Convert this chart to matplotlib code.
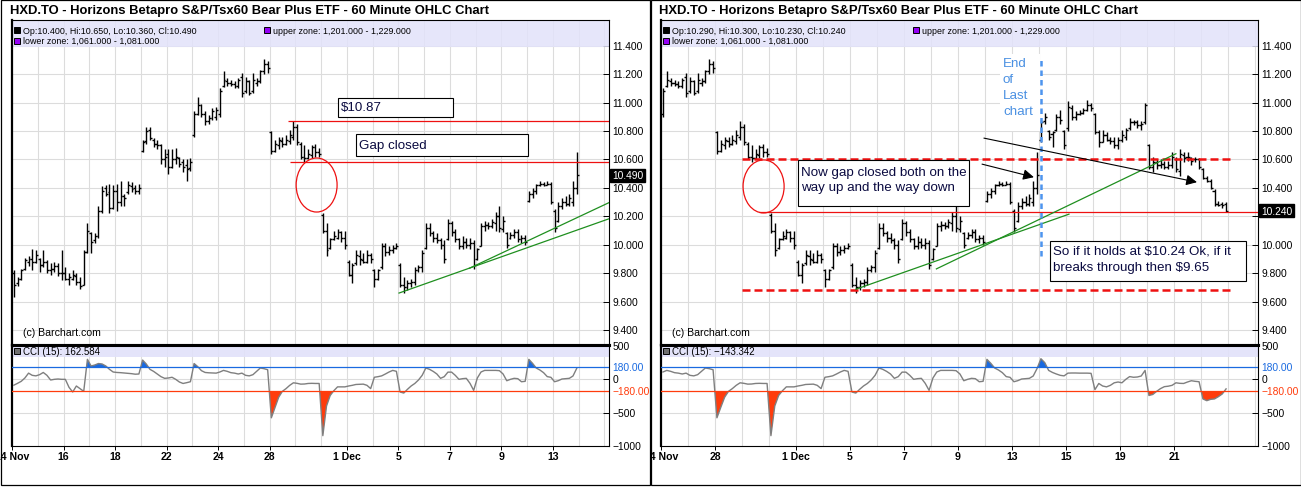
import numpy as np
import matplotlib
matplotlib.use("Agg")
import matplotlib.pyplot as plt
from matplotlib.patches import Ellipse, Rectangle
from matplotlib.transforms import Bbox, TransformedBbox, blended_transform_factory

plt.rcParams["font.family"] = ["Liberation Sans", "DejaVu Sans"]

# HXD.TO hourly bars, 14 Nov .. 22 Dec, 7 bars per trading day
HIGH = [
    9.82, 9.77, 9.83, 9.91, 9.92, 9.97, 9.96,          # 14 Nov
    9.91, 9.96, 9.89, 9.87, 9.88, 9.87, 9.96,          # 15
    9.84, 9.80, 9.82, 9.80, 9.77, 9.96, 10.15,         # 16
    10.09, 10.08, 10.27, 10.41, 10.42, 10.43, 10.42,   # 17
    10.43, 10.45, 10.36, 10.45, 10.44, 10.42, 10.43,   # 18
    10.74, 10.83, 10.83, 10.75, 10.74, 10.71, 10.67,   # 21
    10.67, 10.67, 10.68, 10.62, 10.60, 10.60, 10.61,   # 22
    10.94, 11.04, 10.99, 10.94, 10.91, 10.96, 10.97,   # 23
    11.10, 11.22, 11.17, 11.16, 11.15, 11.17, 11.21,   # 24
    11.18, 11.16, 11.21, 11.17, 11.23, 11.31, 11.29,   # 25
    10.80, 10.74, 10.76, 10.76, 10.77, 10.81, 10.87,   # 28
    10.85, 10.72, 10.70, 10.67, 10.70, 10.71, 10.68,   # 29
    10.22, 10.15, 10.05, 10.10, 10.11, 10.10, 10.10,   # 30
    9.89, 9.87, 9.96, 9.96, 9.94, 9.96, 9.94,          # 1 Dec
    9.83, 9.83, 10.01, 10.01, 9.99, 10.00, 10.01,      # 2
    9.87, 9.77, 9.75, 9.76, 9.84, 9.86, 9.96,          # 5
    10.15, 10.15, 10.10, 10.08, 10.05, 10.03, 10.18,   # 6
    10.17, 10.11, 10.05, 10.06, 10.05, 10.05, 10.03,   # 7
    9.98, 10.15, 10.17, 10.16, 10.18, 10.23, 10.27,    # 8
    10.20, 10.09, 10.09, 10.11, 10.11, 10.07, 10.07,   # 9
    10.38, 10.40, 10.43, 10.45, 10.44, 10.45, 10.44,   # 12
    10.25, 10.30, 10.33, 10.34, 10.36, 10.45, 10.65,   # 13
    10.88, 10.93, 10.81, 10.80, 10.92, 10.95, 10.81,   # 14
    11.01, 10.98, 10.94, 10.95, 10.96, 11.02, 11.00,   # 15
    10.93, 10.81, 10.81, 10.79, 10.76, 10.76, 10.76,   # 16
    10.81, 10.82, 10.89, 10.88, 10.88, 10.87, 11.00,   # 19
    10.71, 10.62, 10.60, 10.60, 10.59, 10.59, 10.65,   # 20
    10.62, 10.67, 10.65, 10.65, 10.62, 10.62, 10.61,   # 21
    10.54, 10.48, 10.46, 10.39, 10.31, 10.30, 10.30,   # 22
]
LOW = [
    9.63, 9.71, 9.75, 9.82, 9.85, 9.82, 9.87,
    9.81, 9.84, 9.80, 9.79, 9.81, 9.78, 9.75,
    9.75, 9.72, 9.75, 9.72, 9.69, 9.72, 9.94,
    9.94, 10.01, 10.05, 10.22, 10.34, 10.22, 10.25,
    10.24, 10.27, 10.27, 10.36, 10.37, 10.36, 10.36,
    10.65, 10.71, 10.74, 10.69, 10.67, 10.57, 10.55,
    10.50, 10.54, 10.57, 10.55, 10.51, 10.45, 10.52,
    10.76, 10.91, 10.90, 10.84, 10.85, 10.88, 10.88,
    10.90, 11.11, 11.12, 11.12, 11.10, 11.10, 11.04,
    11.07, 11.05, 11.07, 11.12, 11.14, 11.20, 11.21,
    10.64, 10.65, 10.67, 10.69, 10.70, 10.71, 10.74,
    10.70, 10.60, 10.58, 10.60, 10.61, 10.62, 10.62,
    10.08, 9.92, 9.97, 10.03, 10.04, 10.02, 9.97,
    9.78, 9.73, 9.86, 9.86, 9.87, 9.87, 9.87,
    9.70, 9.75, 9.83, 9.92, 9.93, 9.94, 9.97,
    9.70, 9.66, 9.68, 9.70, 9.72, 9.81, 9.81,
    9.97, 10.06, 10.02, 10.01, 9.97, 9.87, 10.03,
    10.06, 10.02, 9.97, 9.97, 9.98, 9.97, 9.83,
    9.89, 9.99, 10.10, 10.11, 10.12, 10.10, 10.09,
    10.09, 9.98, 10.04, 10.05, 10.02, 10.01, 10.00,
    10.30, 10.33, 10.36, 10.41, 10.41, 10.42, 10.29,
    10.09, 10.16, 10.25, 10.27, 10.27, 10.27, 10.36,
    10.72, 10.85, 10.74, 10.69, 10.80, 10.85, 10.67,
    10.80, 10.88, 10.88, 10.91, 10.92, 10.94, 10.94,
    10.78, 10.69, 10.72, 10.73, 10.71, 10.68, 10.67,
    10.72, 10.74, 10.81, 10.84, 10.82, 10.81, 10.85,
    10.53, 10.51, 10.53, 10.54, 10.53, 10.53, 10.54,
    10.51, 10.48, 10.58, 10.59, 10.56, 10.58, 10.53,
    10.46, 10.44, 10.39, 10.27, 10.27, 10.26, 10.23,
]
OPEN = [
    9.80, 9.73, 9.76, 9.83, 9.88, 9.90, 9.88,
    9.90, 9.86, 9.88, 9.82, 9.83, 9.85, 9.80,
    9.80, 9.76, 9.76, 9.78, 9.74, 9.72, 9.95,
    10.08, 10.03, 10.06, 10.24, 10.40, 10.37, 10.26,
    10.38, 10.30, 10.34, 10.37, 10.41, 10.40, 10.38,
    10.66, 10.73, 10.81, 10.74, 10.71, 10.70, 10.60,
    10.64, 10.55, 10.60, 10.61, 10.58, 10.56, 10.54,
    10.77, 10.92, 10.98, 10.92, 10.87, 10.89, 10.90,
    10.92, 11.12, 11.15, 11.14, 11.13, 11.12, 11.18,
    11.08, 11.15, 11.08, 11.14, 11.15, 11.22, 11.27,
    10.79, 10.66, 10.70, 10.73, 10.71, 10.73, 10.76,
    10.83, 10.71, 10.62, 10.61, 10.63, 10.69, 10.65,
    10.21, 10.10, 9.98, 10.04, 10.05, 10.09, 10.05,
    9.88, 9.79, 9.87, 9.92, 9.89, 9.88, 9.93,
    9.82, 9.76, 9.84, 9.99, 9.95, 9.96, 9.98,
    9.86, 9.72, 9.70, 9.73, 9.74, 9.82, 9.84,
    9.98, 10.12, 10.08, 10.05, 10.03, 10.00, 10.04,
    10.15, 10.09, 10.04, 9.99, 10.02, 10.00, 10.01,
    9.90, 9.99, 10.13, 10.14, 10.13, 10.15, 10.20,
    10.11, 10.08, 10.05, 10.07, 10.09, 10.04, 10.05,
    10.31, 10.36, 10.38, 10.42, 10.43, 10.42, 10.43,
    10.24, 10.17, 10.27, 10.30, 10.29, 10.30, 10.40,
    10.74, 10.87, 10.80, 10.78, 10.81, 10.90, 10.80,
    10.82, 10.96, 10.90, 10.92, 10.93, 10.95, 10.98,
    10.92, 10.79, 10.72, 10.77, 10.74, 10.73, 10.70,
    10.74, 10.76, 10.82, 10.86, 10.86, 10.84, 10.86,
    10.70, 10.55, 10.58, 10.56, 10.57, 10.55, 10.56,
    10.60, 10.52, 10.63, 10.62, 10.61, 10.60, 10.60,
    10.53, 10.47, 10.45, 10.38, 10.29, 10.29, 10.29,
]
CLOSE = [
    9.72, 9.76, 9.82, 9.89, 9.90, 9.88, 9.93,
    9.86, 9.88, 9.82, 9.83, 9.85, 9.80, 9.80,
    9.76, 9.77, 9.79, 9.74, 9.71, 9.95, 10.10,
    10.02, 10.06, 10.24, 10.38, 10.36, 10.26, 10.38,
    10.30, 10.34, 10.33, 10.42, 10.39, 10.38, 10.40,
    10.72, 10.80, 10.75, 10.71, 10.70, 10.60, 10.62,
    10.55, 10.60, 10.62, 10.57, 10.55, 10.53, 10.58,
    10.92, 10.98, 10.92, 10.87, 10.89, 10.94, 10.95,
    11.08, 11.16, 11.14, 11.13, 11.12, 11.16, 11.07,
    11.15, 11.07, 11.16, 11.15, 11.22, 11.27, 11.24,
    10.66, 10.71, 10.74, 10.71, 10.74, 10.77, 10.83,
    10.72, 10.62, 10.61, 10.64, 10.69, 10.65, 10.64,
    10.10, 9.96, 10.04, 10.06, 10.09, 10.05, 10.00,
    9.79, 9.86, 9.93, 9.90, 9.88, 9.93, 9.90,
    9.76, 9.82, 9.99, 9.95, 9.96, 9.98, 9.99,
    9.72, 9.70, 9.73, 9.74, 9.82, 9.84, 9.94,
    10.12, 10.08, 10.05, 10.03, 10.00, 9.90, 10.15,
    10.09, 10.04, 9.99, 10.02, 10.00, 10.01, 9.86,
    9.97, 10.13, 10.14, 10.13, 10.16, 10.20, 10.12,
    10.17, 10.00, 10.07, 10.09, 10.04, 10.05, 10.02,
    10.36, 10.38, 10.42, 10.43, 10.42, 10.43, 10.30,
    10.12, 10.27, 10.30, 10.29, 10.33, 10.40, 10.49,
    10.86, 10.90, 10.76, 10.79, 10.90, 10.88, 10.70,
    10.97, 10.90, 10.92, 10.93, 10.95, 10.98, 10.96,
    10.79, 10.72, 10.77, 10.74, 10.73, 10.70, 10.74,
    10.77, 10.81, 10.86, 10.86, 10.84, 10.85, 10.98,
    10.55, 10.58, 10.56, 10.57, 10.55, 10.56, 10.62,
    10.53, 10.64, 10.61, 10.62, 10.59, 10.60, 10.55,
    10.47, 10.45, 10.40, 10.29, 10.28, 10.28, 10.24,
]
CCI = [
    -88, -60, -30, 20, 93, 60, 52,
    70, 103, 60, -10, 0, 5, 0,
    0, -120, -190, -100, -140, -180, 300,
    200, 215, 237, 230, 200, 150, 110,
    103, 100, 95, 90, 85, 77, 80,
    289, 230, 150, 119, 80, 40, 15,
    20, 31, 0, -40, -62, -50, -36,
    237, 190, 130, 103, 98, 95, 93,
    110, 134, 120, 100, 93, 80, 93,
    60, 52, 70, 120, 170, 160, 144,
    -577, -420, -268, -180, -139, -90, -52,
    -60, -72, -70, -62, -60, -62, -62,
    -845, -400, -242, -170, -113, -113, -113,
    -100, -90, -77, -75, -72, -90, -139,
    31, 40, 52, 80, 110, 134, 120,
    -190, -206, -150, -100, -62, -10, 60,
    170, 150, 119, 80, 15, 40, 108,
    108, 60, 0, 10, 15, -60, -165,
    20, 110, 134, 134, 134, 134, 130,
    80, -21, 0, 15, 10, -36, -30,
    300, 240, 170, 140, 100, 41, 30,
    -36, -20, 5, 10, 15, 50, 162.584,
    309, 250, 134, 103, 80, 60, 52,
    93, 95, 95, 93, 93, 93, 90,
    -155, -62, -100, -113, -90, -52, -40,
    -52, 0, 41, 31, 35, 50, 134,
    -242, -227, -180, -139, -110, -103, -90,
    -52, -60, -62, -40, -21, -30, -36,
    -294, -320, -300, -294, -260, -220, -143.342,
]

LEFT_TICK_DAYS = [0, 2, 4, 6, 8, 10, 13, 15, 17, 19, 21]
LEFT_TICK_LABELS = ["14 Nov", "16", "18", "22", "24", "28", "1 Dec", "5", "7", "9", "13"]
RIGHT_TICK_DAYS = [8, 10, 13, 15, 17, 19, 21, 23, 25, 27]
RIGHT_TICK_LABELS = ["24 Nov", "28", "1 Dec", "5", "7", "9", "13", "15", "19", "21"]
PRICE_TICKS = [11.4, 11.2, 11.0, 10.8, 10.6, 10.4, 10.2, 10.0, 9.8, 9.6, 9.4]
CCI_TICKS = [500, 180, 0, -180, -500, -1000]
CCI_TICK_LABELS = ["500", "180.00", "0", "\u2212180.00", "\u2212500", "\u22121000"]

BARS_PER_DAY = 7
GRID = "#dcdcdc"
BAND = "#e2e2fa"
RED = "#ee1111"
GREEN = "#1f8f1f"
NAVY = "#0a0a40"
CCI_BLUE = "#1a6ae0"
CCI_RED = "#ff3c0c"
TITLE = "HXD.TO - Horizons Betapro S&P/Tsx60 Bear Plus ETF - 60 Minute OHLC Chart"

W, H = 1301, 489
fig = plt.figure(figsize=(W / 100, H / 100), dpi=100)
fig.patch.set_facecolor("white")

hi, lo, op, cl = map(np.array, (HIGH, LOW, OPEN, CLOSE))
cci = np.array(CCI, dtype=float)
idx = np.arange(len(hi))
xpos = idx // BARS_PER_DAY + (idx % BARS_PER_DAY + 0.5) / BARS_PER_DAY

PX_TOP, PX_SPLIT, PX_BOT = 21, 346, 447


def fx(px):
    return px / W


def fy(py):
    return 1 - py / H


def ax_px(x0, y0, x1, y1):
    return fig.add_axes([fx(x0), fy(y1), (x1 - x0) / W, (y1 - y0) / H])


def clip_text(ax, x, y, s, clip, transform, **kw):
    t = ax.text(x, y, s, transform=transform, **kw)
    t.set_clip_path(None)
    t.set_clip_box(TransformedBbox(Bbox([[fx(clip[0]), 0], [fx(clip[1]), 1]]),
                                   fig.transFigure))
    t.set_clip_on(True)
    return t


def fig_box(x0, y0, x1, y1, **kw):
    fig.add_artist(Rectangle((fx(x0), fy(y1)), (x1 - x0) / W, (y1 - y0) / H,
                             transform=fig.transFigure, **kw))


def square(x, y, color):
    fig_box(x, y, x + 6, y + 6, facecolor=color, edgecolor="black", lw=0.7)


def panel(x0, x1, d0, ppd, sl, tick_days, tick_labels, clip, ohlc_txt, cci_txt, last):
    span = (x1 - x0) / ppd
    axp = ax_px(x0, PX_TOP, x1, PX_SPLIT)
    axc = ax_px(x0, PX_SPLIT, x1, PX_BOT)
    for ax in (axp, axc):
        ax.set_xlim(d0, d0 + span)
        for d in range(d0 + 1, int(d0 + span) + 1):
            ax.axvline(d, color=GRID, lw=0.8, zorder=0)
        ax.yaxis.tick_right()
        ax.tick_params(axis="y", direction="in", length=4, width=0.7,
                       labelright=False, right=True, left=False)
        for s in ax.spines.values():
            s.set_color("black")
            s.set_linewidth(0.8)
        ax.spines["left"].set_linewidth(1.6)
    axp.set_xticks([])
    axc.set_xticks(tick_days)
    axc.tick_params(axis="x", direction="out", length=3, width=0.7, labelbottom=False)
    axp.spines["bottom"].set_linewidth(2.2)
    axc.spines["top"].set_linewidth(2.2)

    # price panel
    axp.set_ylim(9.2945, 11.581)
    axp.set_yticks(PRICE_TICKS)
    axp.grid(axis="y", color=GRID, lw=0.8, zorder=0)
    axp.set_axisbelow(True)
    band_h = 27 / (PX_SPLIT - PX_TOP)
    axp.add_patch(Rectangle((0, 1 - band_h), 1, band_h, transform=axp.transAxes,
                            facecolor=BAND, edgecolor="none", alpha=0.85, zorder=1))
    xs = xpos[sl]
    w = 0.075
    axp.vlines(xs, lo[sl], hi[sl], color="black", lw=1.0, zorder=3)
    axp.hlines(op[sl], xs - w, xs, color="black", lw=1.0, zorder=3)
    axp.hlines(cl[sl], xs, xs + w, color="black", lw=1.0, zorder=3)

    ytr = blended_transform_factory(axp.transAxes, axp.transData)
    lx = 1 + 3.5 / (x1 - x0)
    for v in PRICE_TICKS:
        # the last-price tag hides a tick label that it would overlap
        if abs(v - last) < 0.07:
            continue
        clip_text(axp, lx, v, f"{v:.3f}", clip, ytr, fontsize=7.4, va="center", ha="left")
    clip_text(axp, lx - 0.001, last, f"{last:.3f}", clip, ytr, fontsize=7.4, va="center",
              ha="left", color="white", zorder=6,
              bbox=dict(boxstyle="square,pad=0.15", facecolor="black", edgecolor="black"))

    # CCI panel
    axc.set_ylim(-1000, 515)
    axc.set_yticks(CCI_TICKS)
    for v in (500, 0, -500):
        axc.axhline(v, color=GRID, lw=0.8, zorder=0)
    band_c = 12 / (PX_BOT - PX_SPLIT)
    axc.add_patch(Rectangle((0, 1 - band_c), 1, band_c, transform=axc.transAxes,
                            facecolor=BAND, edgecolor="none", alpha=0.9, zorder=1))
    cv = cci[sl]
    axc.fill_between(xs, cv, 180, where=cv > 180, interpolate=True, color=CCI_BLUE,
                     lw=0, zorder=2)
    axc.fill_between(xs, cv, -180, where=cv < -180, interpolate=True, color=CCI_RED,
                     lw=0, zorder=2)
    axc.plot(xs, cv, color="#7f7f7f", lw=1.0, zorder=3)
    axc.axhline(180, color=CCI_BLUE, lw=0.9, zorder=4)
    axc.axhline(-180, color=CCI_RED, lw=0.9, zorder=4)
    ctr = blended_transform_factory(axc.transAxes, axc.transData)
    cols = ["black", CCI_BLUE, "black", CCI_RED, "black", "black"]
    for v, s, c in zip(CCI_TICKS, CCI_TICK_LABELS, cols):
        clip_text(axc, lx, v, s, clip, ctr, fontsize=7.4, va="center", ha="left", color=c)

    xtr = blended_transform_factory(axc.transData, fig.transFigure)
    for d, s in zip(tick_days, tick_labels):
        clip_text(axc, d, fy(457), s, clip, xtr, fontsize=7.6, fontweight="bold",
                  ha="center", va="center")

    # header texts
    fig.text(fx(x0 - 2), fy(11), TITLE, fontsize=9.4, fontweight="bold", va="center")
    square(x0 + 2, 28, "black")
    fig.text(fx(x0 + 11), fy(31), ohlc_txt, fontsize=6.4, va="center")
    square(x0 + 252, 28, "#9400f5")
    fig.text(fx(x0 + 261), fy(31), "upper zone: 1,201.000 - 1,229.000", fontsize=6.4,
             va="center")
    square(x0 + 2, 38.5, "#9400f5")
    fig.text(fx(x0 + 11), fy(41.5), "lower zone: 1,061.000 - 1,081.000", fontsize=6.4,
             va="center")
    square(x0 + 2, 349, "#6e6e6e")
    fig.text(fx(x0 + 11), fy(352.5), cci_txt, fontsize=7, va="center")
    fig.text(fx(x0 + 11), fy(333), "(c) Barchart.com", fontsize=7.6, va="center")

    # panel frame
    fig_box(clip[0] + 0.5, 0.5, clip[1] - 0.5, 486, fill=False, edgecolor="black", lw=0.9)
    return axp, axc


def note(x0, y0, x1, y1, lines, ty, dy=15.5, fs=9.6):
    fig_box(x0, y0, x1, y1, facecolor="white", edgecolor="black", lw=0.8, zorder=5)
    for i, s in enumerate(lines):
        fig.text(fx(x0 + 3), fy(ty + i * dy), s, fontsize=fs, color=NAVY, va="center",
                 zorder=6)


# ---------------- left snapshot (14 Nov .. 13 Dec) ----------------
axp, axc = panel(12, 609, 0, 25.75, slice(0, 22 * BARS_PER_DAY),
                 LEFT_TICK_DAYS, LEFT_TICK_LABELS, (0, 650),
                 "Op:10.400, Hi:10.650, Lo:10.360, Cl:10.490", "CCI (15): 162.584", 10.49)
axp.hlines(10.87, 10.72, 24, color=RED, lw=0.9, zorder=4)
axp.hlines(10.585, 10.80, 24, color=RED, lw=0.9, zorder=4)
axp.add_patch(Ellipse((11.83, 10.42), 1.59, 0.38, fill=False, edgecolor=RED, lw=0.9,
                      zorder=4))
axp.plot([15.03, 23.3], [9.66, 10.19], color=GREEN, lw=0.9, zorder=4)
axp.plot([17.77, 23.3], [9.835, 10.306], color=GREEN, lw=0.9, zorder=4)
note(338, 99, 453, 118, ["$10.87"], 108.5)
note(356, 135, 528, 157, ["Gap closed"], 146)

# ---------------- right snapshot (24 Nov .. 22 Dec) ----------------
axp2, axc2 = panel(661, 1258, 8, 27.0, slice(8 * BARS_PER_DAY, len(HIGH)),
                   RIGHT_TICK_DAYS, RIGHT_TICK_LABELS, (650, 1301),
                   "Op:10.290, Hi:10.300, Lo:10.230, Cl:10.240", "CCI (15): \u2212143.342",
                   10.24)
axp2.hlines([10.6, 9.682], 11.0, 29.2, colors=RED, lw=1.8, linestyles=(0, (3.2, 1.6)),
            zorder=4)
axp2.hlines(10.23, 11.63, 31, color=RED, lw=0.9, zorder=4)
axp2.add_patch(Ellipse((11.8, 10.41), 1.52, 0.373, fill=False, edgecolor=RED, lw=0.9,
                       zorder=4))
axp2.plot([15.22, 23.11], [9.687, 10.215], color=GREEN, lw=0.9, zorder=4)
axp2.plot([18.2, 27.07], [9.83, 10.64], color=GREEN, lw=0.9, zorder=4)
axp2.vlines(22.07, 9.92, 11.306, color="#4d94ee", lw=1.8, linestyles=(0, (2.2, 1.6)),
            zorder=4)
axp2.annotate("", xy=(21.81, 10.475), xytext=(19.89, 10.567), zorder=5,
              arrowprops=dict(arrowstyle="-|>", color="black", lw=0.8, mutation_scale=16,
                              shrinkA=0, shrinkB=0))
axp2.annotate("", xy=(27.85, 10.44), xytext=(19.96, 10.75), zorder=5,
              arrowprops=dict(arrowstyle="-|>", color="black", lw=0.8, mutation_scale=16,
                              shrinkA=0, shrinkB=0))
fig_box(1000, 55, 1040, 132, facecolor="white", edgecolor="none", zorder=4)
for i, s in enumerate(["End", "of", "Last", "chart"]):
    fig.text(fx(1003), fy(64 + i * 16.1), s, fontsize=9.6, color="#4a90e2", va="center",
             zorder=6)
note(798, 161, 969, 207, ["Now gap closed both on the", "way up and the way down"], 173)
note(1050, 242, 1246, 282, ["So if it holds at $10.24 Ok, if it",
                            "breaks through then $9.65"], 252)

fig.savefig("out.png", dpi=100)
